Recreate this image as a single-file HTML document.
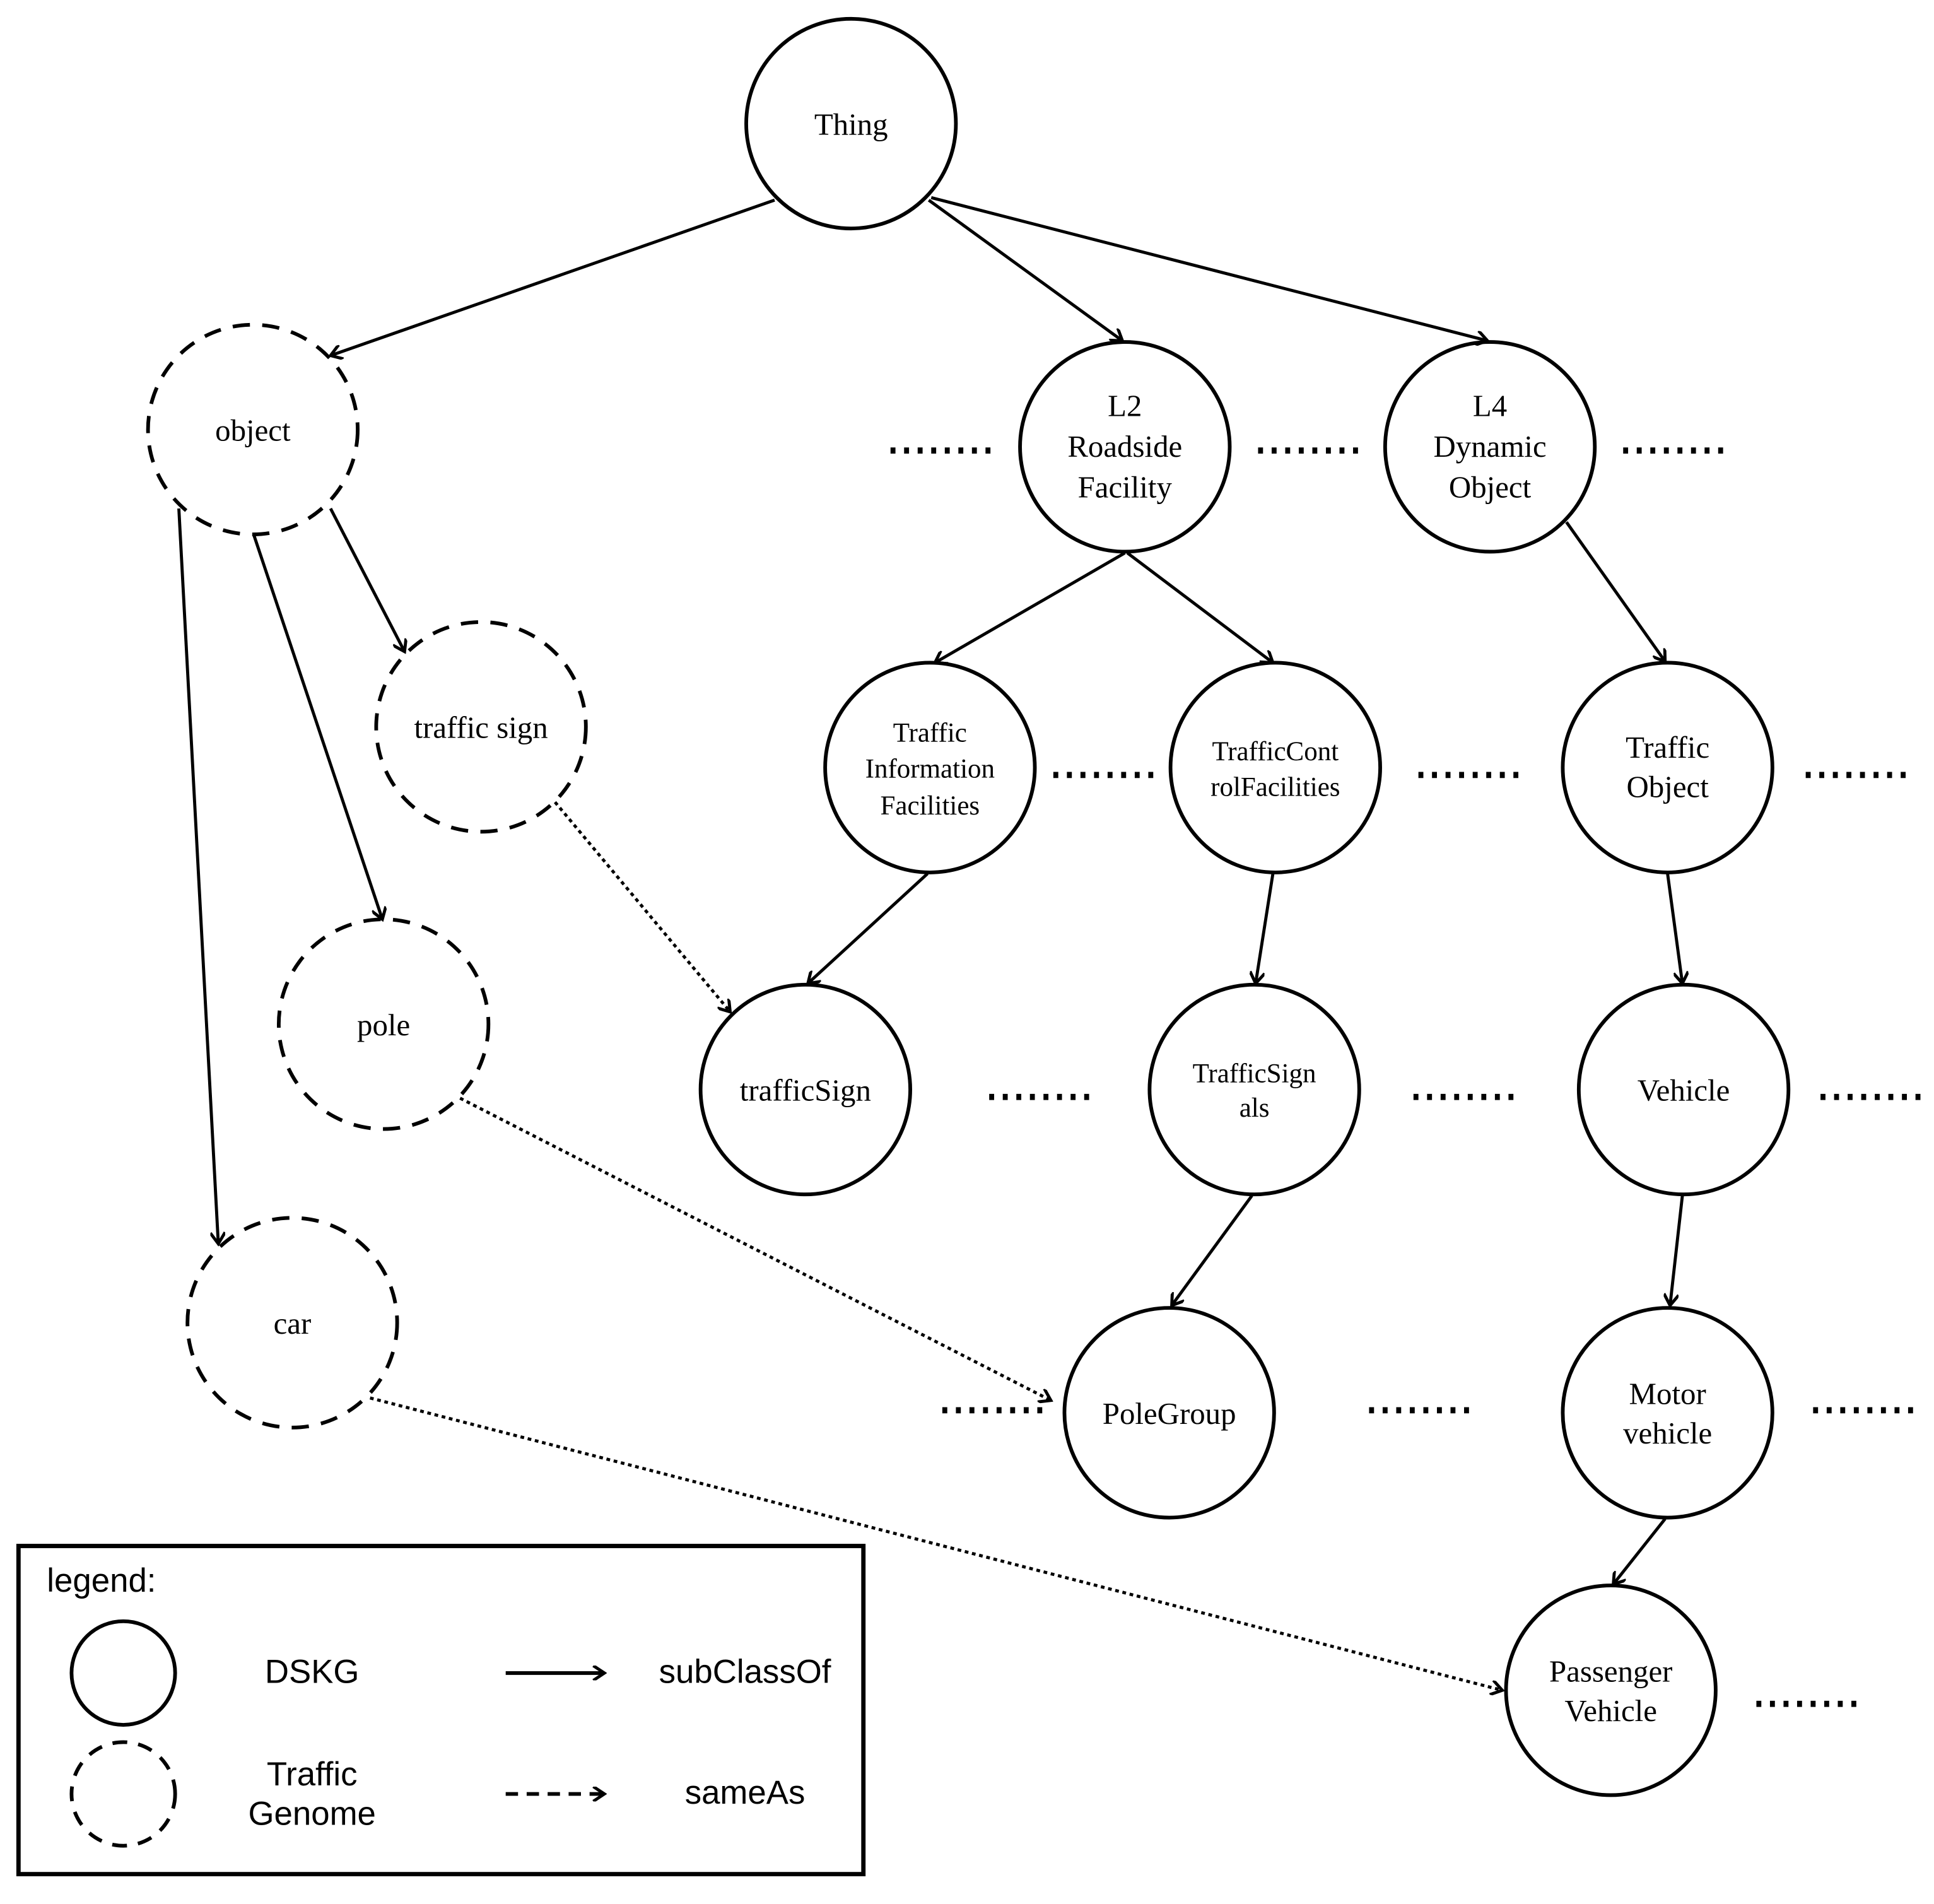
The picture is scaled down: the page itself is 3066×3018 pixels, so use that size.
<!DOCTYPE html>
<html><head><meta charset="utf-8"><style>html,body{margin:0;padding:0;background:#fff}svg{display:block}</style></head><body>
<svg width="3066" height="3018" viewBox="0 0 1568 1543" xmlns="http://www.w3.org/2000/svg">
<defs>
<marker id="a" markerWidth="12" markerHeight="12" refX="10" refY="6" orient="auto" markerUnits="userSpaceOnUse" viewBox="0 0 12 12"><path d="M1,0 L10,6 L1,12" fill="none" stroke="#000" stroke-width="2.5"/></marker>
</defs>
<rect width="1568" height="1543" fill="#fff"/>
<g fill="none" stroke="#000" stroke-width="3">
<circle cx="690" cy="100" r="85"/>
<circle cx="912" cy="362" r="85"/>
<circle cx="1208" cy="362" r="85"/>
<circle cx="754" cy="622" r="85"/>
<circle cx="1034" cy="622" r="85"/>
<circle cx="1352" cy="622" r="85"/>
<circle cx="653" cy="883" r="85"/>
<circle cx="1017" cy="883" r="85"/>
<circle cx="1365" cy="883" r="85"/>
<circle cx="948" cy="1145" r="85"/>
<circle cx="1352" cy="1145" r="85"/>
<circle cx="1306" cy="1370" r="85"/>
<g stroke-dasharray="14,10">
<circle cx="205" cy="348" r="85"/>
<circle cx="390" cy="589" r="85"/>
<circle cx="311" cy="830" r="85"/>
<circle cx="237" cy="1072" r="85"/>
</g>
</g>
<g stroke="#000" stroke-width="2.5" fill="none" marker-end="url(#a)">
<line x1="628" y1="162" x2="268" y2="288"/>
<line x1="753" y1="162" x2="910" y2="276"/>
<line x1="755" y1="160" x2="1206" y2="276"/>
<line x1="912" y1="448" x2="758" y2="537"/>
<line x1="914" y1="448" x2="1032" y2="537"/>
<line x1="1270" y1="423" x2="1350" y2="536"/>
<line x1="268" y1="412" x2="328" y2="528"/>
<line x1="206" y1="434" x2="310" y2="745"/>
<line x1="145" y1="412" x2="177" y2="1008"/>
<line x1="752" y1="708" x2="655" y2="797"/>
<line x1="1032" y1="708" x2="1018" y2="797"/>
<line x1="1352" y1="708" x2="1364" y2="797"/>
<line x1="1015" y1="969" x2="950" y2="1058"/>
<line x1="1364" y1="969" x2="1354" y2="1058"/>
<line x1="1350" y1="1231" x2="1308" y2="1284"/>
</g>
<g stroke="#000" stroke-width="2.5" fill="none" stroke-dasharray="3,3" marker-end="url(#a)">
<line x1="450" y1="650" x2="592" y2="820"/>
<line x1="373" y1="890" x2="852" y2="1135"/>
<line x1="300" y1="1133" x2="1218" y2="1370"/>
</g>
<g stroke="#000" stroke-width="5" stroke-dasharray="4,7" fill="none">
<line x1="722" y1="365" x2="804" y2="365"/>
<line x1="1020" y1="365" x2="1102" y2="365"/>
<line x1="1316" y1="365" x2="1398" y2="365"/>
<line x1="854" y1="628" x2="936" y2="628"/>
<line x1="1150" y1="628" x2="1232" y2="628"/>
<line x1="1464" y1="628" x2="1546" y2="628"/>
<line x1="802" y1="889" x2="884" y2="889"/>
<line x1="1146" y1="889" x2="1228" y2="889"/>
<line x1="1476" y1="889" x2="1558" y2="889"/>
<line x1="764" y1="1143" x2="846" y2="1143"/>
<line x1="1110" y1="1143" x2="1192" y2="1143"/>
<line x1="1470" y1="1143" x2="1552" y2="1143"/>
<line x1="1424" y1="1381" x2="1506" y2="1381"/>
</g>
<g font-family="Liberation Serif, serif" font-size="25" text-anchor="middle" fill="#000">
<text x="690" y="109">Thing</text>
<text x="912" y="337">L2</text><text x="912" y="370">Roadside</text><text x="912" y="403">Facility</text>
<text x="1208" y="337">L4</text><text x="1208" y="370">Dynamic</text><text x="1208" y="403">Object</text>
<text x="205" y="357">object</text>
<text x="390" y="598">traffic sign</text>
<text x="754" y="601" font-size="22">Traffic</text><text x="754" y="630" font-size="22">Information</text><text x="754" y="660" font-size="22">Facilities</text>
<text x="1034" y="616" font-size="22">TrafficCont</text><text x="1034" y="645" font-size="22">rolFacilities</text>
<text x="1352" y="614">Traffic</text><text x="1352" y="646">Object</text>
<text x="311" y="839">pole</text>
<text x="653" y="892">trafficSign</text>
<text x="1017" y="877" font-size="22">TrafficSign</text><text x="1017" y="905" font-size="22">als</text>
<text x="1365" y="892">Vehicle</text>
<text x="237" y="1081">car</text>
<text x="948" y="1154">PoleGroup</text>
<text x="1352" y="1138">Motor</text><text x="1352" y="1170">vehicle</text>
<text x="1306" y="1363">Passenger</text><text x="1306" y="1395">Vehicle</text>
</g>
<rect x="15" y="1253" width="685" height="266" fill="none" stroke="#000" stroke-width="3.5"/>
<circle cx="100" cy="1356" r="42" fill="none" stroke="#000" stroke-width="3"/>
<circle cx="100" cy="1454" r="42" fill="none" stroke="#000" stroke-width="3" stroke-dasharray="12,9"/>
<line x1="410" y1="1356" x2="490" y2="1356" stroke="#000" stroke-width="3" marker-end="url(#a)"/>
<line x1="410" y1="1454" x2="490" y2="1454" stroke="#000" stroke-width="3" stroke-dasharray="10,7" marker-end="url(#a)"/>
<g font-family="Liberation Sans, DejaVu Sans, sans-serif" font-size="27" fill="#000">
<text x="38" y="1290">legend:</text>
<text x="253" y="1364" text-anchor="middle">DSKG</text>
<text x="253" y="1447" text-anchor="middle">Traffic</text>
<text x="253" y="1479" text-anchor="middle">Genome</text>
<text x="604" y="1364" text-anchor="middle">subClassOf</text>
<text x="604" y="1462" text-anchor="middle">sameAs</text>
</g>
</svg>
</body></html>
